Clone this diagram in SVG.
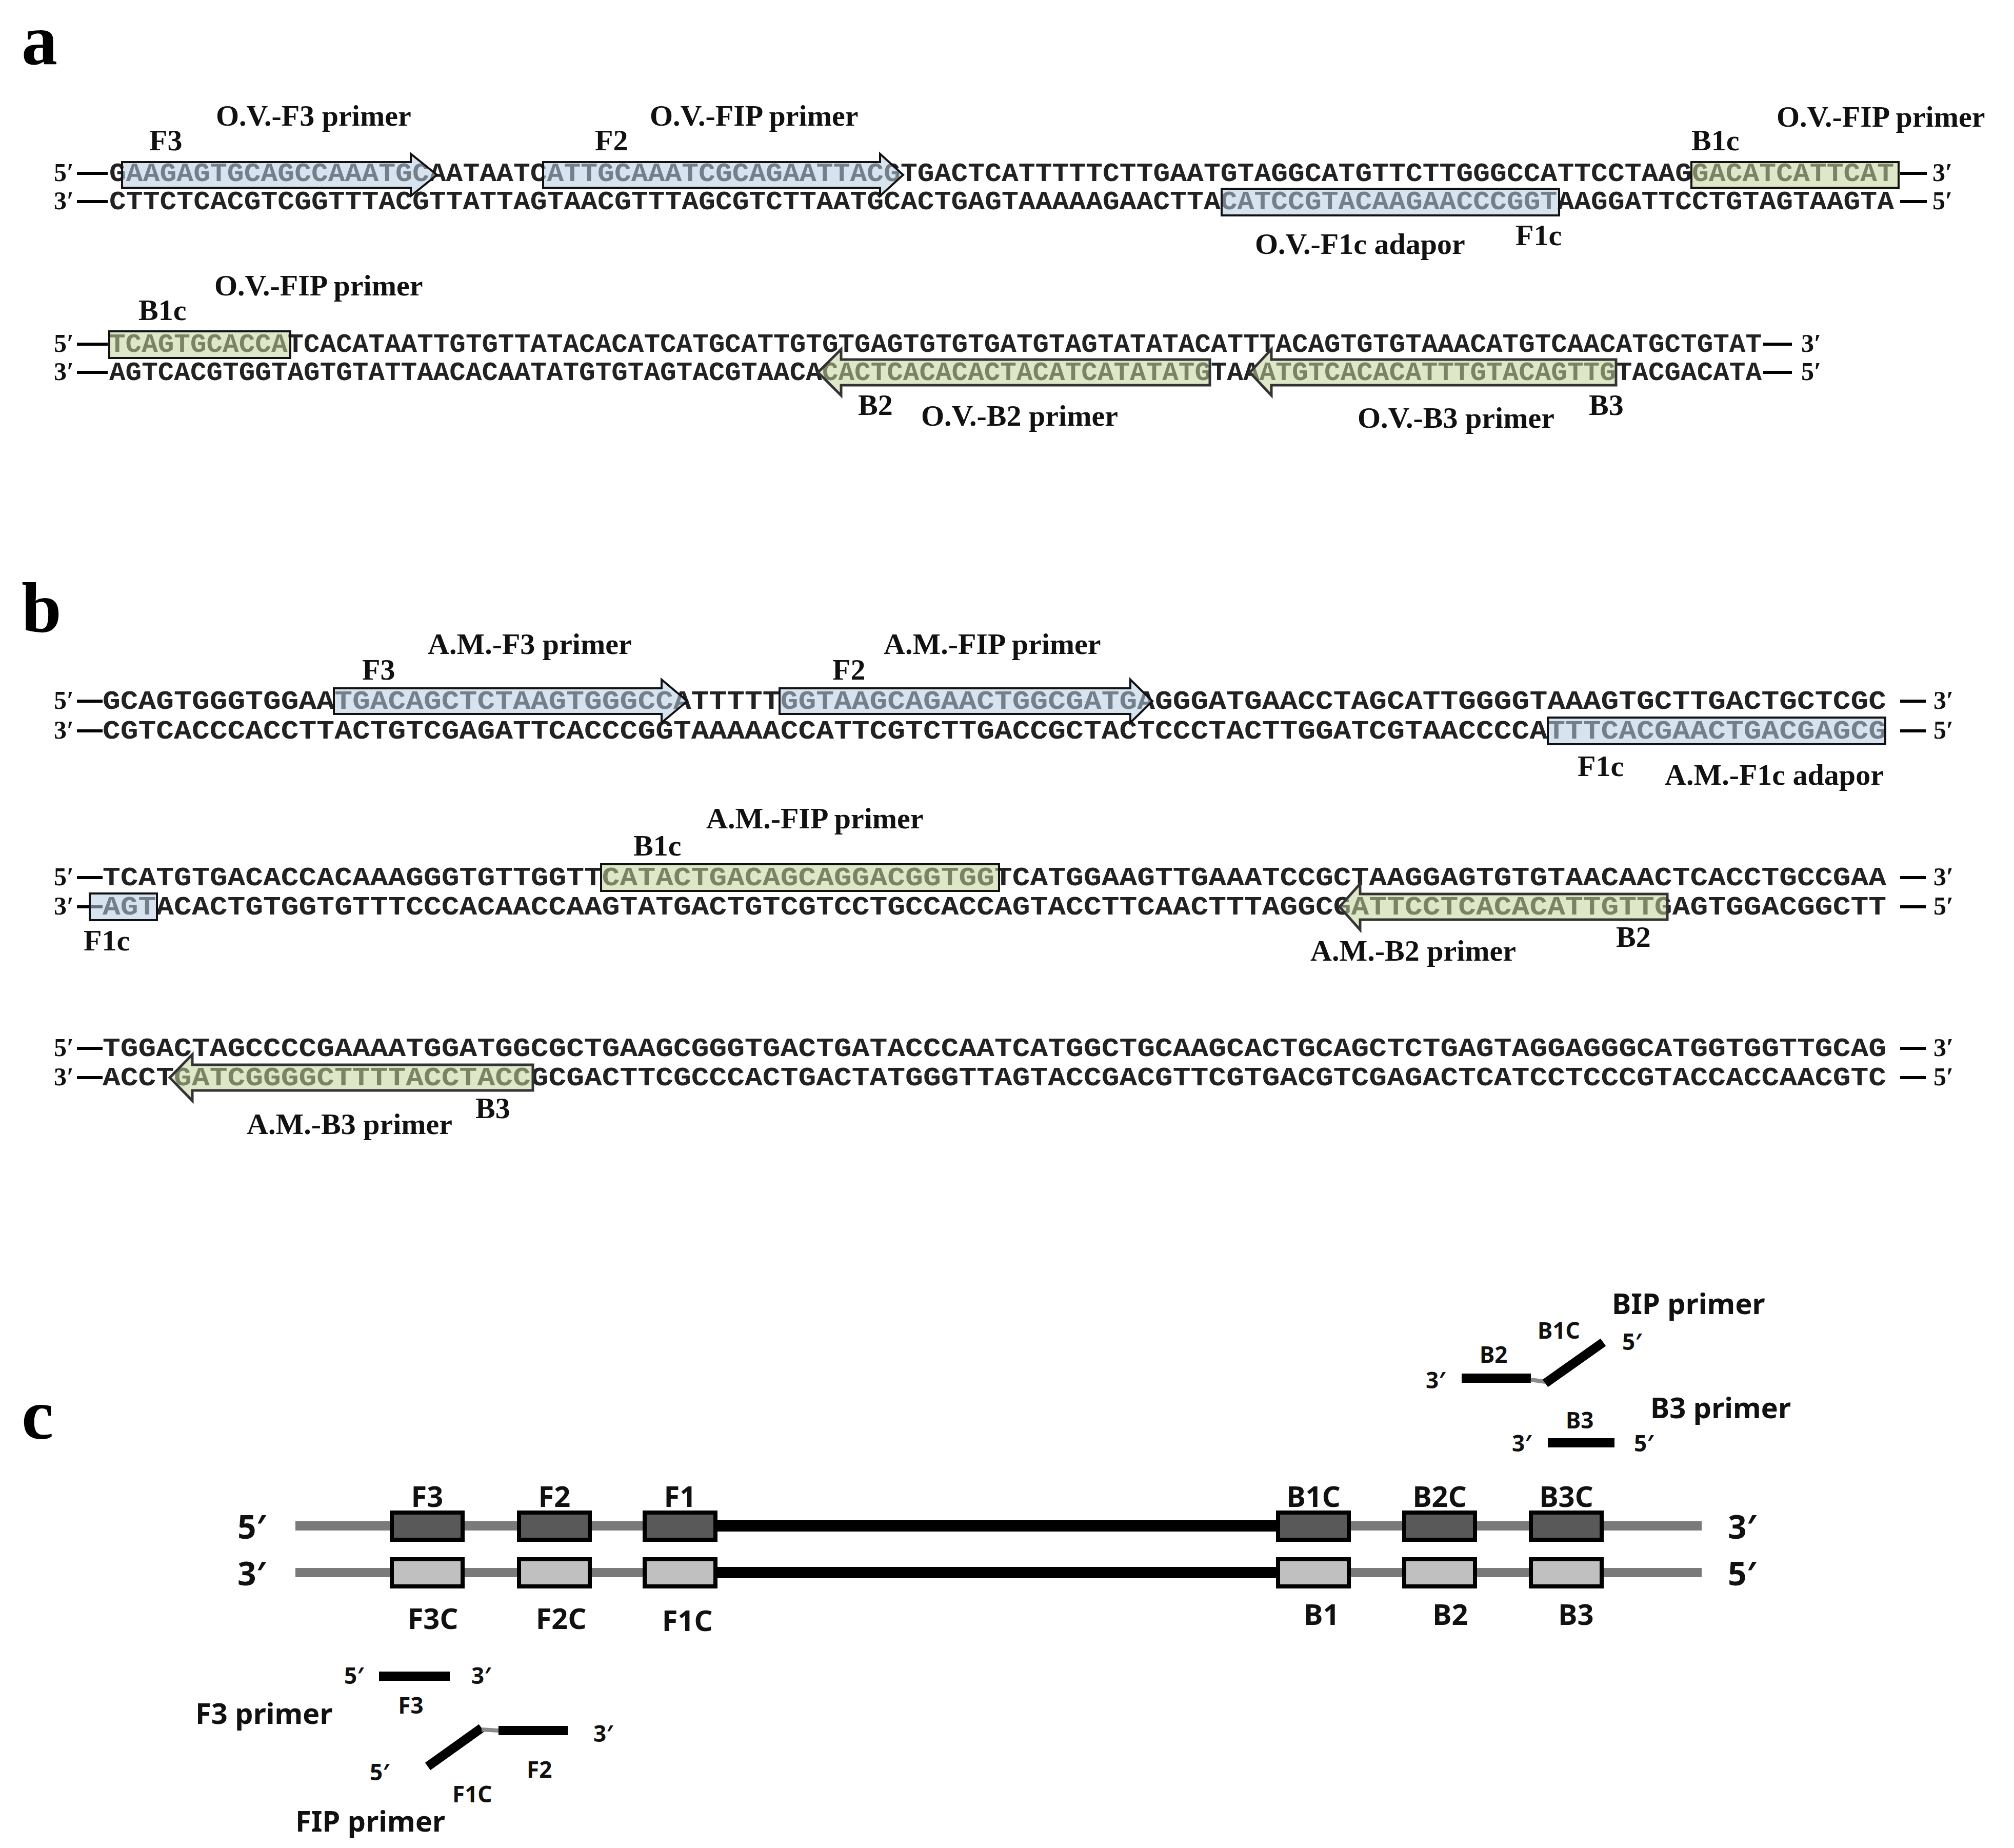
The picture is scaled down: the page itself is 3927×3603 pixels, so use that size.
<svg xmlns="http://www.w3.org/2000/svg" width="3927" height="3603" viewBox="0 0 3927 3603">
<style>
.seq{font-family:"Liberation Mono",monospace;font-size:52px;font-weight:bold;fill:#222;}
.lab{font-family:"Liberation Serif",serif;font-size:58px;font-weight:bold;fill:#111;}
.end{font-family:"Liberation Serif",serif;font-size:50px;font-weight:bold;fill:#111;}
.pan{font-family:"Liberation Serif",serif;font-size:140px;font-weight:bold;fill:#000;}
.dash{stroke:#000;stroke-width:6;}
.blue{fill:#b8cce4;fill-opacity:0.55;stroke:#111;stroke-width:4;}
.green{fill:#c3d69b;fill-opacity:0.55;stroke:#111;stroke-width:4;}
.greenL{fill:#c3d69b;fill-opacity:0.55;stroke:#333;stroke-width:5;}
.cl{font-family:"Noto Sans",sans-serif;font-weight:bold;font-size:56px;fill:#111;}
.cs{font-family:"Noto Sans",sans-serif;font-weight:bold;font-size:44px;fill:#111;}
.ce{font-family:"Noto Sans",sans-serif;font-weight:bold;font-size:64px;fill:#111;}
.gray{stroke:#7a7a7a;stroke-width:18;}
.blk{stroke:#000;stroke-width:22;}
.bar{stroke:#000;stroke-width:18;}
.link{stroke:#8a8a8a;stroke-width:8;}
.boxD{fill:#595959;stroke:#000;stroke-width:8;}
.boxL{fill:#c0c0c0;stroke:#000;stroke-width:8;}
</style>

<g id="panel-labels">
<text class="pan" x="42" y="125">a</text>
<text class="pan" x="42" y="1232">b</text>
<text class="pan" x="42" y="2805">c</text>
</g>

<!-- Panel a row 1 -->
<g id="a-row1">
<text class="end" x="105" y="353">5′</text>
<line class="dash" x1="150" y1="338" x2="210" y2="338"/>
<text class="end" x="105" y="408">3′</text>
<line class="dash" x1="150" y1="393" x2="210" y2="393"/>
<text class="seq" x="213" y="353" textLength="3480" lengthAdjust="spacingAndGlyphs">GAAGAGTGCAGCCAAATGCAATAATCATTGCAAATCGCAGAATTACGTGACTCATTTTTCTTGAATGTAGGCATGTTCTTGGGCCATTCCTAAGGACATCATTCAT</text>
<text class="seq" x="213" y="408" textLength="3480" lengthAdjust="spacingAndGlyphs">CTTCTCACGTCGGTTTACGTTATTAGTAACGTTTAGCGTCTTAATGCACTGAGTAAAAAGAACTTACATCCGTACAAGAACCCGGTAAGGATTCCTGTAGTAAGTA</text>
<line class="dash" x1="3705" y1="338" x2="3757" y2="338"/>
<line class="dash" x1="3705" y1="393" x2="3757" y2="393"/>
<text class="end" x="3768" y="353">3′</text>
<text class="end" x="3768" y="408">5′</text>
</g>
<g id="a-F3">
<path class="blue" d="M238,316 L801,316 L801,300 L852,341 L801,382 L801,366 L238,366 Z"/>
<text class="lab" x="291" y="293">F3</text>
<text class="lab" x="421" y="245">O.V.-F3 primer</text>
</g>
<g id="a-F2">
<path class="blue" d="M1059,316 L1716,316 L1716,300 L1761,341 L1716,382 L1716,366 L1059,366 Z"/>
<text class="lab" x="1160" y="293">F2</text>
<text class="lab" x="1267" y="245">O.V.-FIP primer</text>
</g>
<g id="a-B1c-1">
<rect class="green" x="3298" y="316" width="404" height="50"/>
<text class="lab" x="3298" y="293">B1c</text>
<text class="lab" x="3464" y="247">O.V.-FIP primer</text>
</g>
<g id="a-F1c">
<rect class="blue" x="2382" y="368" width="658" height="52"/>
<text class="lab" x="2955" y="478">F1c</text>
<text class="lab" x="2447" y="495">O.V.-F1c adapor</text>
</g>

<!-- Panel a row 2 -->
<g id="a-row2">
<text class="end" x="105" y="686">5′</text>
<line class="dash" x1="150" y1="671" x2="210" y2="671"/>
<text class="end" x="105" y="741">3′</text>
<line class="dash" x1="150" y1="726" x2="210" y2="726"/>
<text class="seq" x="213" y="686" textLength="3222" lengthAdjust="spacingAndGlyphs">TCAGTGCACCATCACATAATTGTGTTATACACATCATGCATTGTGTGAGTGTGTGATGTAGTATATACATTTACAGTGTGTAAACATGTCAACATGCTGTAT</text>
<text class="seq" x="213" y="741" textLength="3222" lengthAdjust="spacingAndGlyphs">AGTCACGTGGTAGTGTATTAACACAATATGTGTAGTACGTAACACACTCACACACTACATCATATATGTAAATGTCACACATTTGTACAGTTGTACGACATA</text>
<line class="dash" x1="3438" y1="671" x2="3494" y2="671"/>
<line class="dash" x1="3438" y1="726" x2="3494" y2="726"/>
<text class="end" x="3512" y="686">3′</text>
<text class="end" x="3512" y="741">5′</text>
</g>
<g id="a-B1c-2">
<rect class="green" x="213" y="646" width="353" height="52"/>
<text class="lab" x="270" y="624">B1c</text>
<text class="lab" x="418" y="576">O.V.-FIP primer</text>
</g>
<g id="a-B2">
<path class="greenL" d="M2359,701 L1640,701 L1640,681 L1595,726 L1640,771 L1640,751 L2359,751 Z"/>
<text class="lab" x="1673" y="809">B2</text>
<text class="lab" x="1796" y="830">O.V.-B2 primer</text>
</g>
<g id="a-B3">
<path class="greenL" d="M3151,701 L2479,701 L2479,681 L2437,726 L2479,771 L2479,751 L3151,751 Z"/>
<text class="lab" x="3098" y="809">B3</text>
<text class="lab" x="2647" y="834">O.V.-B3 primer</text>
</g>

<!-- Panel b row 1 -->
<g id="b-row1">
<text class="end" x="105" y="1382">5′</text>
<line class="dash" x1="150" y1="1367" x2="200" y2="1367"/>
<text class="end" x="105" y="1440">3′</text>
<line class="dash" x1="150" y1="1425" x2="200" y2="1425"/>
<text class="seq" x="200" y="1382" textLength="3478" lengthAdjust="spacingAndGlyphs">GCAGTGGGTGGAATGACAGCTCTAAGTGGGCCATTTTTGGTAAGCAGAACTGGCGATGAGGGATGAACCTAGCATTGGGGTAAAGTGCTTGACTGCTCGC</text>
<text class="seq" x="200" y="1440" textLength="3478" lengthAdjust="spacingAndGlyphs">CGTCACCCACCTTACTGTCGAGATTCACCCGGTAAAAACCATTCGTCTTGACCGCTACTCCCTACTTGGATCGTAACCCCATTTCACGAACTGACGAGCG</text>
<line class="dash" x1="3705" y1="1367" x2="3755" y2="1367"/>
<line class="dash" x1="3705" y1="1425" x2="3755" y2="1425"/>
<text class="end" x="3770" y="1382">3′</text>
<text class="end" x="3770" y="1440">5′</text>
</g>
<g id="b-F3">
<path class="blue" d="M651,1342 L1290,1342 L1290,1325 L1340,1367 L1290,1409 L1290,1392 L651,1392 Z"/>
<text class="lab" x="706" y="1325">F3</text>
<text class="lab" x="834" y="1275">A.M.-F3 primer</text>
</g>
<g id="b-F2">
<path class="blue" d="M1520,1342 L2204,1342 L2204,1325 L2247,1367 L2204,1409 L2204,1392 L1520,1392 Z"/>
<text class="lab" x="1623" y="1325">F2</text>
<text class="lab" x="1723" y="1275">A.M.-FIP primer</text>
</g>
<g id="b-F1c-1">
<rect class="blue" x="3018" y="1399" width="658" height="52"/>
<text class="lab" x="3076" y="1513">F1c</text>
<text class="lab" x="3246" y="1530">A.M.-F1c adapor</text>
</g>

<!-- Panel b row 2 -->
<g id="b-row2">
<text class="end" x="105" y="1726">5′</text>
<line class="dash" x1="150" y1="1711" x2="200" y2="1711"/>
<text class="end" x="105" y="1783">3′</text>
<line class="dash" x1="150" y1="1768" x2="200" y2="1768"/>
<text class="seq" x="200" y="1726" textLength="3478" lengthAdjust="spacingAndGlyphs">TCATGTGACACCACAAAGGGTGTTGGTTCATACTGACAGCAGGACGGTGGTCATGGAAGTTGAAATCCGCTAAGGAGTGTGTAACAACTCACCTGCCGAA</text>
<text class="seq" x="200" y="1783" textLength="3478" lengthAdjust="spacingAndGlyphs">AGTACACTGTGGTGTTTCCCACAACCAAGTATGACTGTCGTCCTGCCACCAGTACCTTCAACTTTAGGCGATTCCTCACACATTGTTGAGTGGACGGCTT</text>
<line class="dash" x1="3705" y1="1711" x2="3755" y2="1711"/>
<line class="dash" x1="3705" y1="1768" x2="3755" y2="1768"/>
<text class="end" x="3770" y="1726">3′</text>
<text class="end" x="3770" y="1783">5′</text>
</g>
<g id="b-B1c">
<rect class="green" x="1172" y="1685" width="776" height="52"/>
<text class="lab" x="1235" y="1668">B1c</text>
<text class="lab" x="1377" y="1615">A.M.-FIP primer</text>
</g>
<g id="b-F1c-2">
<rect class="blue" x="175" y="1742" width="131" height="52"/>
<text class="lab" x="163" y="1853">F1c</text>
</g>
<g id="b-B2">
<path class="greenL" d="M3251,1743 L2652,1743 L2652,1723 L2612,1768 L2652,1813 L2652,1793 L3251,1793 Z"/>
<text class="lab" x="3151" y="1846">B2</text>
<text class="lab" x="2555" y="1873">A.M.-B2 primer</text>
</g>

<!-- Panel b row 3 -->
<g id="b-row3">
<text class="end" x="105" y="2059">5′</text>
<line class="dash" x1="150" y1="2044" x2="200" y2="2044"/>
<text class="end" x="105" y="2116">3′</text>
<line class="dash" x1="150" y1="2101" x2="200" y2="2101"/>
<text class="seq" x="200" y="2059" textLength="3478" lengthAdjust="spacingAndGlyphs">TGGACTAGCCCCGAAAATGGATGGCGCTGAAGCGGGTGACTGATACCCAATCATGGCTGCAAGCACTGCAGCTCTGAGTAGGAGGGCATGGTGGTTGCAG</text>
<text class="seq" x="200" y="2116" textLength="3478" lengthAdjust="spacingAndGlyphs">ACCTGATCGGGGCTTTTACCTACCGCGACTTCGCCCACTGACTATGGGTTAGTACCGACGTTCGTGACGTCGAGACTCATCCTCCCGTACCACCAACGTC</text>
<line class="dash" x1="3705" y1="2044" x2="3755" y2="2044"/>
<line class="dash" x1="3705" y1="2101" x2="3755" y2="2101"/>
<text class="end" x="3770" y="2059">3′</text>
<text class="end" x="3770" y="2116">5′</text>
</g>
<g id="b-B3">
<path class="greenL" d="M1039,2076 L375,2076 L375,2056 L331,2101 L375,2146 L375,2126 L1039,2126 Z"/>
<text class="lab" x="927" y="2180">B3</text>
<text class="lab" x="481" y="2211">A.M.-B3 primer</text>
</g>

<!-- Panel c -->
<g id="connectors">
<line class="gray" x1="576" y1="2975" x2="3318" y2="2975"/>
<line class="gray" x1="576" y1="3066" x2="3318" y2="3066"/>
<line class="blk" x1="1395" y1="2975" x2="2492" y2="2975"/>
<line class="blk" x1="1395" y1="3066" x2="2492" y2="3066"/>
</g>
<g id="c-ends">
<text class="ce" x="463" y="3000">5′</text>
<text class="ce" x="463" y="3091">3′</text>
<text class="ce" x="3369" y="3000">3′</text>
<text class="ce" x="3369" y="3091">5′</text>
</g>
<g id="c-F3"><rect class="boxD" x="764" y="2949" width="138" height="53"/><text class="cl" x="833" y="2938" text-anchor="middle">F3</text></g>
<g id="c-F2"><rect class="boxD" x="1012" y="2949" width="138" height="53"/><text class="cl" x="1081" y="2938" text-anchor="middle">F2</text></g>
<g id="c-F1"><rect class="boxD" x="1257" y="2949" width="138" height="53"/><text class="cl" x="1326" y="2938" text-anchor="middle">F1</text></g>
<g id="c-B1C"><rect class="boxD" x="2492" y="2949" width="138" height="53"/><text class="cl" x="2561" y="2938" text-anchor="middle">B1C</text></g>
<g id="c-B2C"><rect class="boxD" x="2738" y="2949" width="138" height="53"/><text class="cl" x="2807" y="2938" text-anchor="middle">B2C</text></g>
<g id="c-B3C"><rect class="boxD" x="2985" y="2949" width="138" height="53"/><text class="cl" x="3054" y="2938" text-anchor="middle">B3C</text></g>
<g id="c-F3C"><rect class="boxL" x="764" y="3040" width="138" height="53"/><text class="cl" x="844" y="3176" text-anchor="middle">F3C</text></g>
<g id="c-F2C"><rect class="boxL" x="1012" y="3040" width="138" height="53"/><text class="cl" x="1094" y="3176" text-anchor="middle">F2C</text></g>
<g id="c-F1C"><rect class="boxL" x="1257" y="3040" width="138" height="53"/><text class="cl" x="1340" y="3180" text-anchor="middle">F1C</text></g>
<g id="c-B1"><rect class="boxL" x="2492" y="3040" width="138" height="53"/><text class="cl" x="2577" y="3168" text-anchor="middle">B1</text></g>
<g id="c-B2"><rect class="boxL" x="2738" y="3040" width="138" height="53"/><text class="cl" x="2828" y="3168" text-anchor="middle">B2</text></g>
<g id="c-B3"><rect class="boxL" x="2985" y="3040" width="138" height="53"/><text class="cl" x="3073" y="3168" text-anchor="middle">B3</text></g>

<g id="c-BIP">
<line class="bar" x1="2850" y1="2687" x2="2985" y2="2687"/>
<line class="link" x1="2985" y1="2690" x2="3013" y2="2694"/>
<line class="bar" x1="3013" y1="2697" x2="3126" y2="2617"/>
<text class="cl" x="3143" y="2562">BIP primer</text>
<text class="cs" x="2998" y="2610">B1C</text>
<text class="cs" x="3163" y="2632">5′</text>
<text class="cs" x="2885" y="2657">B2</text>
<text class="cs" x="2780" y="2707">3′</text>
</g>
<g id="c-B3primer">
<line class="bar" x1="3018" y1="2813" x2="3148" y2="2813"/>
<text class="cl" x="3218" y="2765">B3 primer</text>
<text class="cs" x="3053" y="2785">B3</text>
<text class="cs" x="2948" y="2830">3′</text>
<text class="cs" x="3186" y="2830">5′</text>
</g>
<g id="c-F3primer">
<line class="bar" x1="739" y1="3268" x2="877" y2="3268"/>
<text class="cs" x="671" y="3283">5′</text>
<text class="cs" x="919" y="3283">3′</text>
<text class="cs" x="801" y="3341" text-anchor="middle">F3</text>
<text class="cl" x="381" y="3361">F3 primer</text>
</g>
<g id="c-FIP">
<line class="bar" x1="834" y1="3444" x2="939" y2="3369"/>
<line class="link" x1="939" y1="3372" x2="972" y2="3374"/>
<line class="bar" x1="972" y1="3374" x2="1107" y2="3374"/>
<text class="cs" x="1157" y="3396">3′</text>
<text class="cs" x="721" y="3471">5′</text>
<text class="cs" x="882" y="3514">F1C</text>
<text class="cs" x="1027" y="3466">F2</text>
<text class="cl" x="576" y="3571">FIP primer</text>
</g>
</svg>
